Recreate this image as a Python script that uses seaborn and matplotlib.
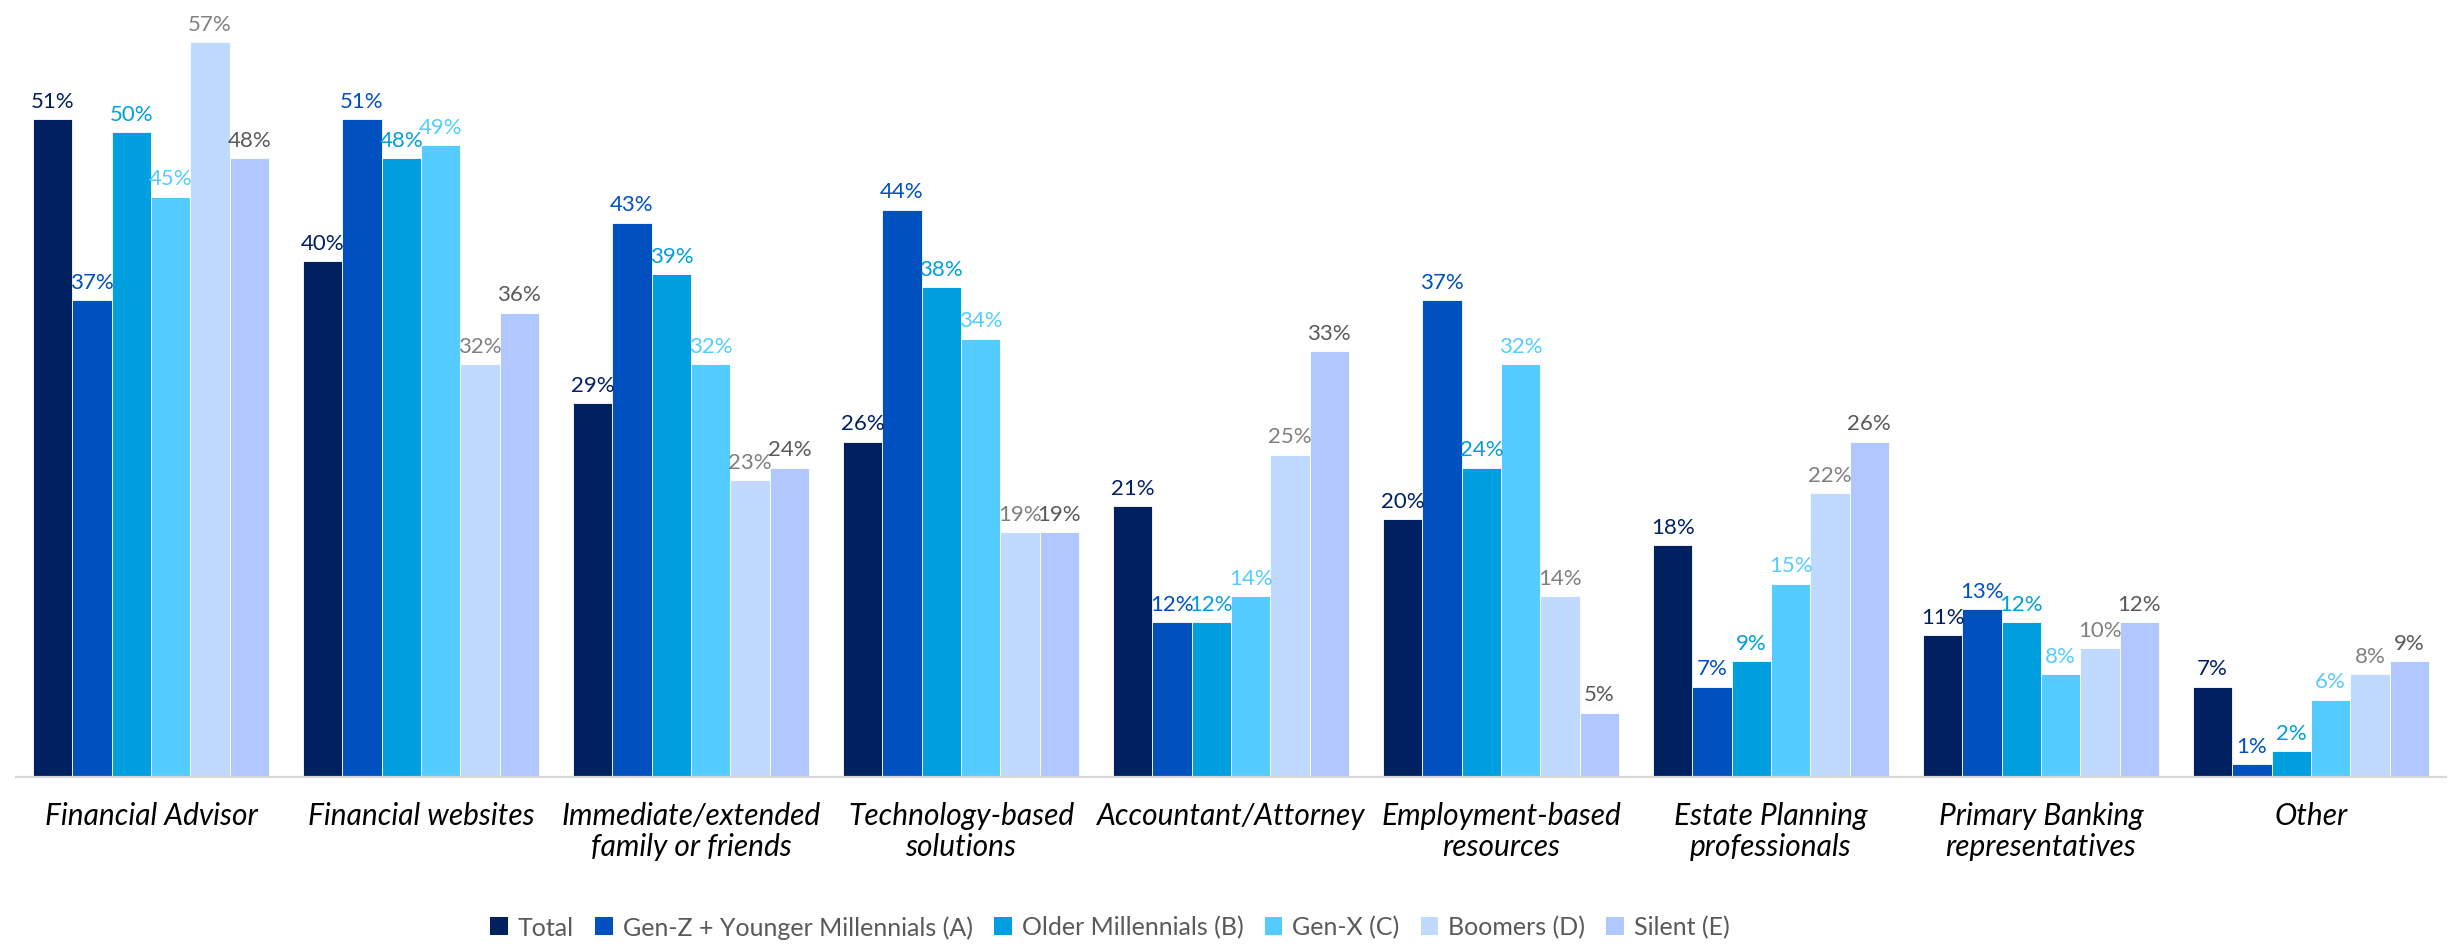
import matplotlib
matplotlib.use("Agg")
import matplotlib.pyplot as plt
import seaborn as sns
import pandas as pd
from matplotlib.patches import Patch

categories = ["Financial Advisor", "Financial websites", "Immediate/extended\nfamily or friends",
              "Technology-based\nsolutions", "Accountant/Attorney", "Employment-based\nresources",
              "Estate Planning\nprofessionals", "Primary Banking\nrepresentatives", "Other"]
series = ["Total", "Gen-Z + Younger Millennials (A)", "Older Millennials (B)",
          "Gen-X (C)", "Boomers (D)", "Silent (E)"]
total = [51, 40, 29, 26, 21, 20, 18, 11, 7]
genz = [37, 51, 43, 44, 12, 37, 7, 13, 1]
older_mill = [50, 48, 39, 38, 12, 24, 9, 12, 2]
genx = [45, 49, 32, 34, 14, 32, 15, 8, 6]
boomers = [57, 32, 23, 19, 25, 14, 22, 10, 8]
silent = [48, 36, 24, 19, 33, 5, 26, 12, 9]

bar_colors = ["#002060", "#0050C0", "#009FDF", "#55CCFF", "#C0DAFF", "#B0C8FF"]
label_colors = ["#002060", "#0050C0", "#009FDF", "#55CCFF", "#808080", "#595959"]

values = [total, genz, older_mill, genx, boomers, silent]
rows = []
for s, vals in zip(series, values):
    for c, v in zip(categories, vals):
        rows.append({"category": c, "series": s, "value": v})
df = pd.DataFrame(rows)

sns.set_theme(style="white")
plt.rcParams["font.family"] = ["Lato", "DejaVu Sans"]

W, H = 2453, 945
fig = plt.figure(figsize=(W / 100, H / 100), dpi=100)
base = 778
ax = fig.add_axes([16 / W, 1 - base / H, 2430 / W, base / H])

sns.barplot(data=df, x="category", y="value", hue="series", order=categories,
            hue_order=series, palette=bar_colors, width=0.874, saturation=1,
            edgecolor="white", linewidth=0.6, legend=False, ax=ax)

for cont, col in zip(ax.containers, label_colors):
    ax.bar_label(cont, labels=[f"{int(round(b.get_height()))}%" for b in cont],
                 padding=6, color=col, fontsize=16, clip_on=False)

ax.set_xlim(-0.5, len(categories) - 0.5)
ax.set_ylim(0, base / 12.895)
ax.set_xlabel("")
ax.set_ylabel("")
ax.set_yticks([])
for sp in ["top", "right", "left"]:
    ax.spines[sp].set_visible(False)
ax.spines["bottom"].set_color("#D9D9D9")
ax.spines["bottom"].set_linewidth(1.6)

ax.set_xticks(range(len(categories)))
ax.set_xticklabels(categories, fontsize=21.5, style="italic", color="black", linespacing=1.15)
ax.tick_params(axis="x", which="major", length=0, pad=17)
ax.set_xticks([i - 0.5 for i in range(len(categories) + 1)], minor=True)
ax.tick_params(axis="x", which="minor", length=7.5, width=1.4, color="#D9D9D9", direction="out")

handles = [Patch(facecolor=c, edgecolor="none") for c in bar_colors]
fig.legend(handles, series, loc="center", bbox_to_anchor=(1110 / W, 1 - 928 / H),
           ncol=6, frameon=False, fontsize=18, labelcolor="#595959",
           handlelength=0.7, handleheight=0.7, handletextpad=0.4, columnspacing=0.85)

fig.savefig("out.png", dpi=100)
